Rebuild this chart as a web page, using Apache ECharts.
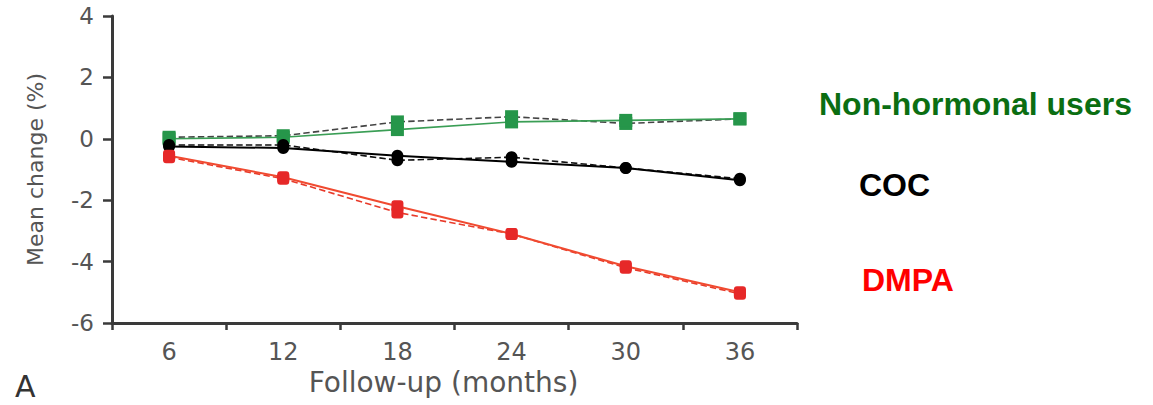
<!DOCTYPE html>
<html>
<head>
<meta charset="utf-8">
<script src="https://cdn.jsdelivr.net/npm/echarts@6/dist/echarts.min.js"></script>
<style>
  html, body { margin: 0; padding: 0; background: #fff; }
  #chart { width: 1153px; height: 405px; }
</style>
</head>
<body>
<div id="chart"></div>
<script>
// ---- data ----
const categories = ['6', '12', '18', '24', '30', '36'];
const nonHormonalSolid  = [0.0, 0.05, 0.3, 0.55, 0.6, 0.65];
const nonHormonalDashed = [0.05, 0.1, 0.55, 0.72, 0.5, 0.65];
const cocSolid   = [-0.25, -0.3, -0.55, -0.75, -0.95, -1.35];
const cocDashed  = [-0.2, -0.2, -0.7, -0.6, -0.95, -1.3];
const dmpaSolid  = [-0.55, -1.25, -2.2, -3.1, -4.15, -5.0];
const dmpaDashed = [-0.6, -1.3, -2.4, -3.1, -4.2, -5.05];
const groupLabels = ['Non-hormonal users', 'COC', 'DMPA'];
const yMin = -6, yMax = 4, yStep = 2;
const xName = 'Follow-up (months)';
const yName = 'Mean change (%)';
const panelLetter = 'A';

const axisColor = '#3a3a3a';
const labelColor = '#555555';
const font = 'DejaVu Sans, sans-serif';
const boldFont = 'bold 32px "Liberation Sans", Arial, sans-serif';

function lineSeries(name, data, lineColor, type, width, symbol, size, markColor, z) {
  return {
    name: name, type: 'line', data: data, z: z,
    symbol: symbol, symbolSize: size, showAllSymbol: true,
    lineStyle: { color: lineColor, width: width, type: type },
    itemStyle: { color: markColor, borderWidth: 0 },
    emphasis: { disabled: true },
    animation: false
  };
}

const chart = echarts.init(document.getElementById('chart'), null, { renderer: 'svg' });
chart.setOption({
  backgroundColor: '#ffffff',
  animation: false,
  grid: { left: 112, right: 356, top: 16, bottom: 82 },
  title: {
    text: panelLetter, left: 10, top: 366,
    textStyle: { color: '#333', fontFamily: font, fontWeight: 'normal', fontSize: 30 }
  },
  xAxis: {
    type: 'category', data: categories, boundaryGap: true,
    name: xName, nameLocation: 'middle', nameGap: 37,
    nameTextStyle: { color: labelColor, fontFamily: font, fontSize: 28, padding: [0, 22, 0, 0] },
    axisLine: { onZero: false, lineStyle: { color: axisColor, width: 3 } },
    axisTick: { show: true, length: 7, lineStyle: { color: axisColor, width: 2.5 } },
    axisLabel: { color: labelColor, fontFamily: font, fontSize: 24, margin: 17 },
    splitLine: { show: false }
  },
  yAxis: {
    type: 'value', min: yMin, max: yMax, interval: yStep,
    name: yName, nameLocation: 'middle', nameGap: 66, nameRotate: 90,
    nameTextStyle: { color: labelColor, fontFamily: font, fontSize: 22 },
    axisLine: { show: true, onZero: false, lineStyle: { color: axisColor, width: 3 } },
    axisTick: { show: true, length: 9, lineStyle: { color: axisColor, width: 2.5 } },
    axisLabel: { color: labelColor, fontFamily: font, fontSize: 23, margin: 18 },
    splitLine: { show: false }
  },
  series: [
    lineSeries('Non-hormonal dashed', nonHormonalDashed, '#444', 'dashed', 1.6, 'rect', 13, '#26964a', 3),
    lineSeries('Non-hormonal', nonHormonalSolid, '#3a9e55', 'solid', 1.6, 'rect', 13, '#26964a', 3),
    lineSeries('COC dashed', cocDashed, '#111', 'dashed', 1.6, 'circle', 12, '#000', 4),
    lineSeries('COC', cocSolid, '#000', 'solid', 2, 'circle', 12, '#000', 4),
    lineSeries('DMPA dashed', dmpaDashed, '#e83a2a', 'dashed', 1.6, 'roundRect', 12, '#e62828', 5),
    lineSeries('DMPA', dmpaSolid, '#f04a30', 'solid', 2, 'roundRect', 12, '#e62828', 5)
  ],
  graphic: [
    { type: 'text', left: 819, top: 88, style: { text: groupLabels[0], fill: '#0b6e12', font: boldFont } },
    { type: 'text', left: 859, top: 169, style: { text: groupLabels[1], fill: '#000000', font: boldFont } },
    { type: 'text', left: 862, top: 264, style: { text: groupLabels[2], fill: '#ff0000', font: boldFont } }
  ]
});
</script>
</body>
</html>
